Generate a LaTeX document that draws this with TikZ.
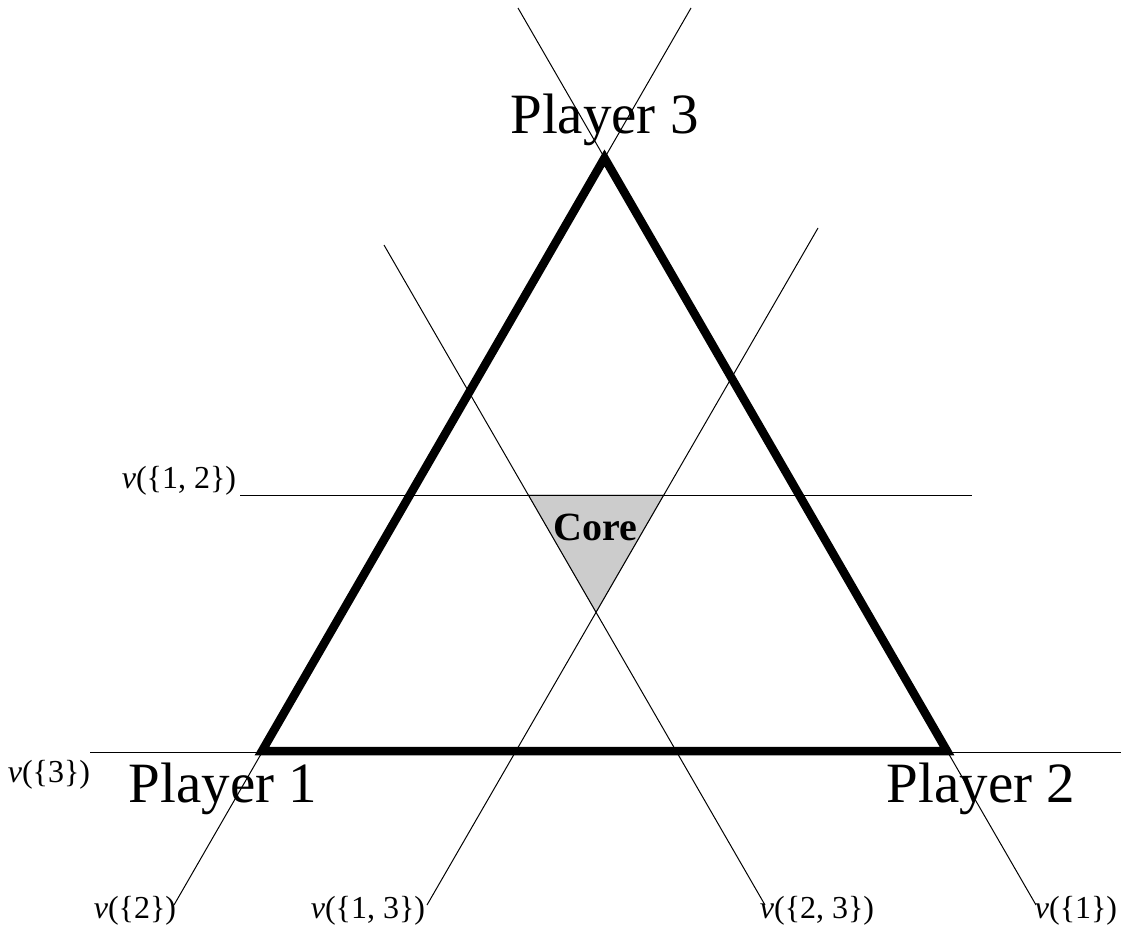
\documentclass[tikz,border=0pt]{standalone}
\usepackage{fontspec}
\setmainfont{Liberation Serif}
\begin{document}
\begin{tikzpicture}[x=1pt,y=-1pt,
  thinline/.style={line width=1pt, black},
  thickline/.style={line width=8.5pt, black, line join=miter},
  bigtxt/.style={anchor=base, inner sep=0pt, font=\fontsize{57}{60}\selectfont},
  smalltxt/.style={anchor=base, inner sep=0pt, font=\fontsize{32}{35}\selectfont},
  coretxt/.style={anchor=base, inner sep=0pt, font=\fontsize{40}{44}\selectfont\bfseries}]
\useasboundingbox (0,0) rectangle (1121,939);
% vertices
\coordinate (P1) at (262,751);
\coordinate (P2) at (947,751);
\coordinate (P3) at (604.5,158);
% core
\coordinate (C1) at (528.5,495);
\coordinate (C2) at (663.5,495);
\coordinate (C3) at (596,612);
\fill[gray!40!white, draw=gray, line width=0.6pt] (C1) -- (C2) -- (C3) -- cycle;
% line end points
\coordinate (v3a) at (90,752);
\coordinate (v3b) at (1121,752);
\coordinate (v12a) at (240,495);
\coordinate (v12b) at (972,495);
\coordinate (v2a) at (174,905);
\coordinate (v2b) at (691,8);
\coordinate (v1a) at (1036,905);
\coordinate (v1b) at (518,8);
\coordinate (v13a) at (427,905);
\coordinate (v13b) at (818,228);
\coordinate (v23a) at (384,245);
\coordinate (v23b) at (765,905);
% thick triangle
\draw[thickline] (P1) -- (P2) -- (P3) -- cycle;
% labels
\node[bigtxt] (L3) at (604.5,133) {Player 3};
\node[bigtxt] (L1) at (223,802) {Player 1};
\node[bigtxt] (L2) at (981,802) {Player 2};
\node[coretxt] (core) at (595,540) {Core};
\node[smalltxt] (t12) at (179,488) {\textit{v}(\{1, 2\})};
\node[smalltxt] (t3) at (49,782) {\textit{v}(\{3\})};
\node[smalltxt] (t2) at (135,918) {\textit{v}(\{2\})};
\node[smalltxt] (t13) at (368,918) {\textit{v}(\{1, 3\})};
\node[smalltxt] (t23) at (817,918) {\textit{v}(\{2, 3\})};
\node[smalltxt] (t1) at (1076,918) {\textit{v}(\{1\})};
% thin lines
\draw[thinline] (v3a) -- (v3b);
\draw[thinline] (v12a) -- (v12b);
\draw[thinline] (v2a) -- (v2b);
\draw[thinline] (v1a) -- (v1b);
\draw[thinline] (v13a) -- (v13b);
\draw[thinline] (v23a) -- (v23b);
\end{tikzpicture}
\end{document}
